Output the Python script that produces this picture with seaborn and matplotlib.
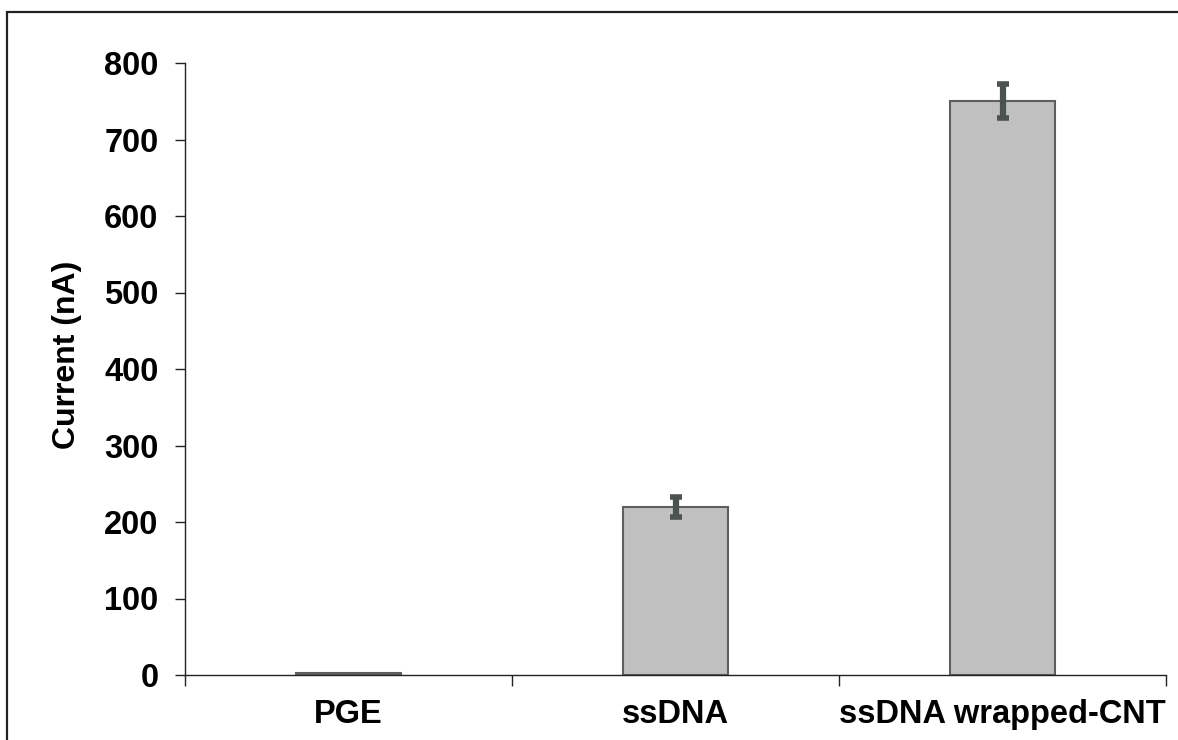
import matplotlib
matplotlib.use("Agg")
import matplotlib.pyplot as plt
import seaborn as sns
import pandas as pd
import numpy as np
from matplotlib.patches import Rectangle

categories = ["PGE", "ssDNA", "ssDNA wrapped-CNT"]
current_values = [2, 220, 750]
current_errors = [0, 13, 22]
y_ticks = [0, 100, 200, 300, 400, 500, 600, 700, 800]

sns.set_theme(style="white")
plt.rcParams['font.family'] = ['Liberation Sans', 'DejaVu Sans']
plt.rcParams['text.color'] = 'black'
plt.rcParams['xtick.labelcolor'] = 'black'
plt.rcParams['ytick.labelcolor'] = 'black'
plt.rcParams['axes.labelcolor'] = 'black'

W, H = 1178, 740
fig = plt.figure(figsize=(W / 100, H / 100), dpi=100)
ax = fig.add_axes([185 / W, 1 - 675 / H, (1166 - 185) / W, (675 - 63) / H])

df = pd.DataFrame({"cat": categories, "val": current_values})
sns.barplot(data=df, x="cat", y="val", ax=ax, color="#C0C0C0", width=0.32,
            edgecolor="#5f5f5f", linewidth=1.5, errorbar=None, saturation=1)

ax.errorbar(x=np.arange(len(categories))[1:], y=current_values[1:], yerr=current_errors[1:],
            fmt="none", ecolor="#4a5252", elinewidth=4.5, capsize=4, capthick=4, zorder=5)

ax.set_xlim(-0.5, len(categories) - 0.5)
ax.set_ylim(0, 800)
ax.set_yticks(y_ticks)
ax.set_yticklabels([str(t) for t in y_ticks], fontsize=23.5, fontweight="bold")
ax.set_xticks(range(len(categories)))
ax.set_xticklabels(categories, fontsize=23.5, fontweight="bold")
ax.set_xticks(np.arange(-0.5, len(categories), 1.0), minor=True)
ax.tick_params(axis="x", which="major", length=0, pad=17)
ax.tick_params(axis="x", which="minor", length=8, width=1, direction="out", color="#222222", bottom=True)
ax.tick_params(axis="y", which="major", length=7, width=1, direction="out", color="#222222", left=True, pad=12)
ax.set_xlabel("")
ax.set_ylabel("Current (nA)", fontsize=23, fontweight="bold")
ax.yaxis.set_label_coords(-0.105, 0.523)

for s in ["top", "right"]:
    ax.spines[s].set_visible(False)
for s in ["left", "bottom"]:
    ax.spines[s].set_color("#222222")
    ax.spines[s].set_linewidth(1.0)

fig.patches.append(Rectangle((7 / W, -0.1), 1.2, 1 - 12 / H + 0.1, transform=fig.transFigure,
                             fill=False, edgecolor="#222222", linewidth=1.6))

fig.savefig("out.png", dpi=100, facecolor="white")
